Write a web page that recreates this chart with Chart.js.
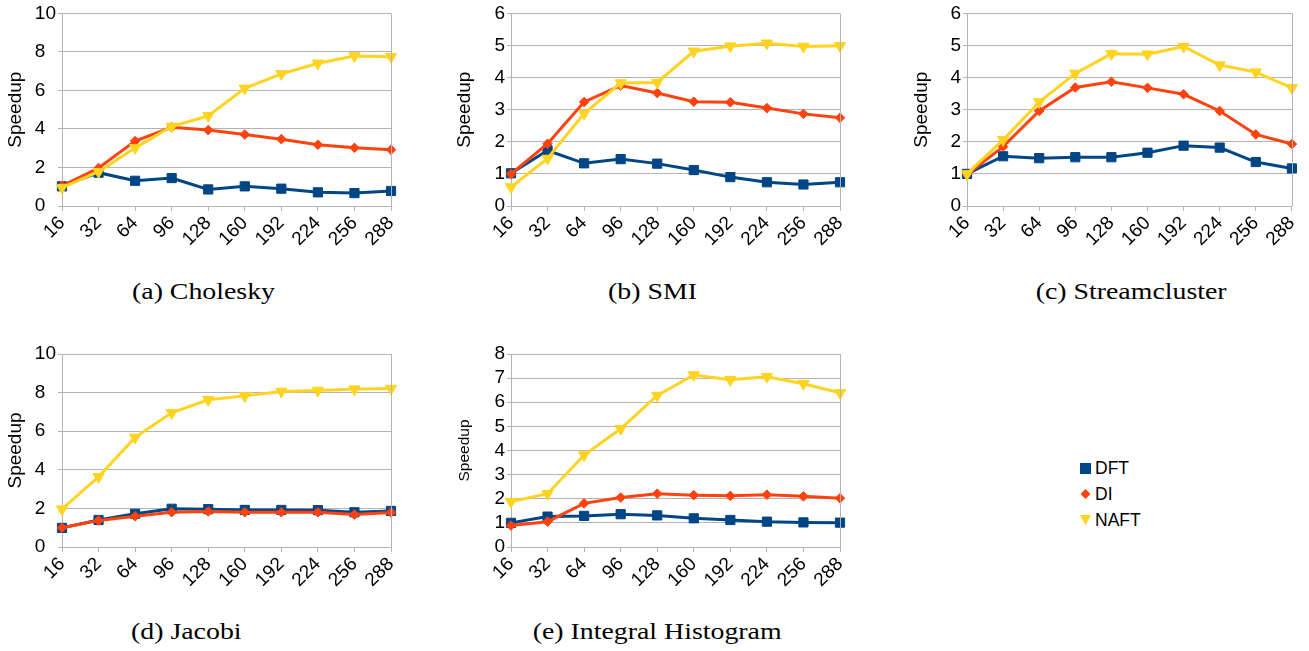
<!DOCTYPE html>
<html>
<head>
<meta charset="utf-8">
<script src="https://cdn.jsdelivr.net/npm/chart.js@4/dist/chart.umd.min.js"></script>
<style>
  body { margin: 0; background: #fff; width: 1309px; height: 651px; position: relative; overflow: hidden; }
  canvas { position: absolute; }
  .cap { position: absolute; font-family: 'Liberation Serif', 'Times New Roman', serif; font-size: 24px; line-height: 24px; color: #000; white-space: nowrap; transform: scaleX(1.16); transform-origin: left top; }
  .cap.r { transform-origin: right top; }
  .legend { position: absolute; left: 1078px; top: 455px; font-family: 'Liberation Sans', Arial, sans-serif; font-size: 17.5px; color: #000; }
  .legend div { height: 26px; line-height: 26px; display: flex; align-items: center; }
  .legend svg { margin-right: 3px; }
</style>
</head>
<body>
<canvas id="chartA" width="420" height="260" style="left:0px;top:0px"></canvas>
<canvas id="chartB" width="420" height="260" style="left:440px;top:0px"></canvas>
<canvas id="chartC" width="419" height="260" style="left:890px;top:0px"></canvas>
<canvas id="chartD" width="420" height="260" style="left:0px;top:340px"></canvas>
<canvas id="chartE" width="420" height="260" style="left:440px;top:340px"></canvas>

<div class="cap" style="left:132px;top:279px">(a) Cholesky</div>
<div class="cap" style="left:608px;top:279px">(b) SMI</div>
<div class="cap r" style="right:82px;top:279px">(c) Streamcluster</div>
<div class="cap" style="left:131px;top:619px">(d) Jacobi</div>
<div class="cap r" style="right:527px;top:619px">(e) Integral Histogram</div>

<div class="legend">
  <div><svg width="14" height="14"><rect x="2" y="2" width="11" height="11" fill="#004586"/></svg>DFT</div>
  <div><svg width="14" height="14"><polygon points="7.5,2 12.5,7 7.5,12 2.5,7" fill="#ff420e"/></svg>DI</div>
  <div><svg width="14" height="14"><polygon points="2,2 13,2 7.5,12" fill="#ffd320"/></svg>NAFT</div>
</div>

<script>
// thread counts on the x axis
const threads = ['16', '32', '64', '96', '128', '160', '192', '224', '256', '288']

// (a) Cholesky
const choleskyDFT  = [1.02, 1.73, 1.31, 1.45, 0.86, 1.02, 0.90, 0.71, 0.67, 0.78]
const choleskyDI   = [1.05, 1.97, 3.37, 4.09, 3.94, 3.71, 3.47, 3.18, 3.02, 2.92]
const choleskyNAFT = [0.95, 1.78, 3.02, 4.13, 4.68, 6.11, 6.86, 7.41, 7.79, 7.75]

// (b) SMI
const smiDFT  = [1.02, 1.73, 1.33, 1.46, 1.32, 1.12, 0.90, 0.74, 0.67, 0.74]
const smiDI   = [1.00, 1.94, 3.24, 3.75, 3.52, 3.25, 3.23, 3.05, 2.87, 2.75]
const smiNAFT = [0.59, 1.48, 2.88, 3.83, 3.85, 4.82, 4.98, 5.07, 4.97, 4.99]

// (c) Streamcluster
const streamDFT  = [1.00, 1.55, 1.49, 1.52, 1.52, 1.66, 1.88, 1.82, 1.37, 1.17]
const streamDI   = [0.98, 1.85, 2.96, 3.69, 3.87, 3.68, 3.48, 2.96, 2.23, 1.93]
const streamNAFT = [1.00, 2.06, 3.24, 4.13, 4.74, 4.73, 4.97, 4.39, 4.17, 3.68]

// (d) Jacobi
const jacobiDFT  = [0.99, 1.40, 1.72, 1.98, 1.96, 1.92, 1.92, 1.91, 1.80, 1.87]
const jacobiDI   = [1.00, 1.37, 1.59, 1.80, 1.84, 1.80, 1.80, 1.80, 1.68, 1.79]
const jacobiNAFT = [1.96, 3.64, 5.68, 6.95, 7.63, 7.83, 8.06, 8.11, 8.18, 8.21]

// (e) Integral Histogram
const histDFT  = [1.00, 1.26, 1.29, 1.36, 1.31, 1.19, 1.12, 1.05, 1.02, 1.01]
const histDI   = [0.89, 1.05, 1.81, 2.05, 2.21, 2.15, 2.12, 2.17, 2.10, 2.02]
const histNAFT = [1.88, 2.21, 3.81, 4.90, 6.28, 7.13, 6.93, 7.06, 6.77, 6.39]

const gridGray = '#b3b3b3'
const sans = "'Liberation Sans', Arial, sans-serif"

// right-hand frame line of the plot area
const framePlugin = {
    id: 'frame',
    afterDraw(chart) {
        const {ctx, chartArea: a} = chart
        ctx.save()
        ctx.strokeStyle = gridGray
        ctx.lineWidth = 1
        ctx.beginPath()
        ctx.moveTo(Math.round(a.right) + 0.5, a.top)
        ctx.lineTo(Math.round(a.right) + 0.5, a.bottom)
        ctx.stroke()
        ctx.restore()
    }
}

function series(label, data, color, style, radius, rotation, order) {
    return {
        label: label,
        data: data,
        borderColor: color,
        backgroundColor: color,
        borderWidth: 3,
        pointStyle: style,
        pointRadius: radius,
        pointHoverRadius: radius,
        pointRotation: rotation,
        pointBorderWidth: 1,
        tension: 0,
        order: order
    }
}

function makeChart(id, dft, di, naft, yMax, step, s) {
    return new Chart(document.getElementById(id), {
        type: 'line',
        data: {
            labels: threads,
            datasets: [
                series('DFT', dft, '#004586', 'rect', 6.5, 0, 3),
                series('DI', di, '#ff420e', 'rectRot', 4.8, 0, 2),
                series('NAFT', naft, '#ffd320', 'triangle', 6.5, 180, 1)
            ]
        },
        options: {
            responsive: false,
            animation: false,
            events: [],
            layout: { padding: { left: 0, top: s.top, right: s.right, bottom: 0 } },
            plugins: { legend: { display: false }, tooltip: { enabled: false } },
            scales: {
                x: {
                    grid: { drawOnChartArea: false, color: gridGray, tickLength: 5 },
                    border: { color: gridGray },
                    ticks: { minRotation: 45, maxRotation: 45, autoSkip: false, color: '#000', padding: 1,
                             font: { family: sans, size: 19 } },
                    afterFit: scale => { scale.height = s.xh }
                },
                y: {
                    min: 0,
                    max: yMax,
                    grid: { color: gridGray, tickLength: 4 },
                    border: { color: gridGray },
                    ticks: { stepSize: step, autoSkip: false, color: '#000', padding: 2,
                             font: { family: sans, size: 19 },
                             // labels sit left-aligned when the axis has a two-digit maximum
                             callback: v => (yMax >= 10 && v < 10) ? v + '\u2007' : '' + v },
                    title: { display: true, text: 'Speedup', color: '#000',
                             font: { family: sans, size: s.titleSize },
                             padding: { top: s.titlePad, bottom: 0 } },
                    afterFit: scale => { scale.width = s.yw }
                }
            }
        },
        plugins: [framePlugin]
    })
}

makeChart('chartA', choleskyDFT, choleskyDI, choleskyNAFT, 10, 2,
    { top: 13, right: 29, xh: 54, yw: 62, titleSize: 19, titlePad: 4.5 })
makeChart('chartB', smiDFT, smiDI, smiNAFT, 6, 1,
    { top: 13, right: 20, xh: 54, yw: 71, titleSize: 19, titlePad: 13.5 })
makeChart('chartC', streamDFT, streamDI, streamNAFT, 6, 1,
    { top: 13, right: 12, xh: 54, yw: 77, titleSize: 19, titlePad: 20 })
makeChart('chartD', jacobiDFT, jacobiDI, jacobiNAFT, 10, 2,
    { top: 14, right: 29, xh: 53, yw: 62, titleSize: 19, titlePad: 4.5 })
makeChart('chartE', histDFT, histDI, histNAFT, 8, 1,
    { top: 14, right: 20, xh: 53, yw: 71, titleSize: 15.5, titlePad: 15 })
</script>
</body>
</html>
